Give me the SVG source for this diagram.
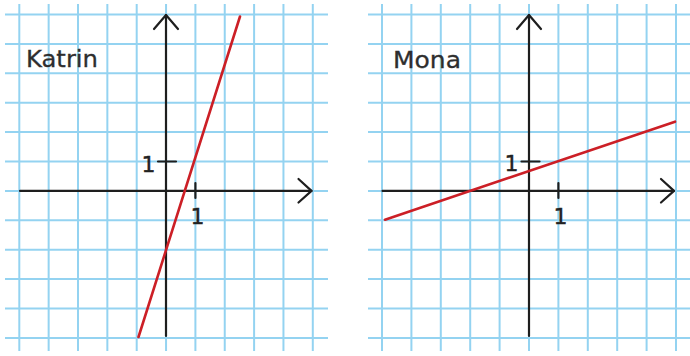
<svg xmlns="http://www.w3.org/2000/svg" width="690" height="356" viewBox="0 0 690 356">
<defs>
<style>
.grid line{stroke:#94d3f1;stroke-width:2}
.axis{stroke:#1e1e1e;stroke-width:2.2;fill:none;stroke-linecap:round;stroke-linejoin:round}
.graph{stroke:#cc1f26;stroke-width:2.6;stroke-linecap:round}
.name{font-family:"DejaVu Sans",sans-serif;font-size:23px;fill:#2e2e2e;stroke:#2e2e2e;stroke-width:0.3}
.num{font-family:"DejaVu Sans",sans-serif;font-size:22px;fill:#222;stroke:#222;stroke-width:0.4;text-anchor:middle}
</style>
</defs>
<rect width="690" height="356" fill="#fff"/>
<g id="katrin-panel">
<g class="grid">
<line x1="19.3" y1="4" x2="19.3" y2="351"/><line x1="48.65" y1="4" x2="48.65" y2="351"/><line x1="78" y1="4" x2="78" y2="351"/><line x1="107.35" y1="4" x2="107.35" y2="351"/><line x1="136.7" y1="4" x2="136.7" y2="351"/><line x1="166.05" y1="4" x2="166.05" y2="351"/><line x1="195.4" y1="4" x2="195.4" y2="351"/><line x1="224.75" y1="4" x2="224.75" y2="351"/><line x1="254.1" y1="4" x2="254.1" y2="351"/><line x1="283.45" y1="4" x2="283.45" y2="351"/><line x1="312.8" y1="4" x2="312.8" y2="351"/>
<line x1="5" y1="14.5" x2="328" y2="14.5"/><line x1="5" y1="43.9" x2="328" y2="43.9"/><line x1="5" y1="73.3" x2="328" y2="73.3"/><line x1="5" y1="102.7" x2="328" y2="102.7"/><line x1="5" y1="132.1" x2="328" y2="132.1"/><line x1="5" y1="161.5" x2="328" y2="161.5"/><line x1="5" y1="190.9" x2="328" y2="190.9"/><line x1="5" y1="220.3" x2="328" y2="220.3"/><line x1="5" y1="249.7" x2="328" y2="249.7"/><line x1="5" y1="279.1" x2="328" y2="279.1"/><line x1="5" y1="308.5" x2="328" y2="308.5"/><line x1="5" y1="337.9" x2="328" y2="337.9"/>
</g>
<g id="katrin-axes">
<line class="axis" x1="166" y1="336" x2="166" y2="15"/>
<polyline class="axis" points="154,29 166,15 178,29"/>
<line class="axis" x1="20" y1="190.9" x2="311.5" y2="190.9"/>
<polyline class="axis" points="298.5,179 311.5,190.9 298.5,202.5"/>
<line class="axis" x1="195.4" y1="183" x2="195.4" y2="198"/>
<line class="axis" x1="158" y1="161.5" x2="176" y2="161.5"/>
<text class="num" x="197.5" y="223.5">1</text>
<text class="num" x="148.5" y="171.5">1</text>
</g>
<line id="katrin-graph" class="graph" x1="240" y1="16.5" x2="138.5" y2="337"/>
<text id="katrin-label" class="name" x="26" y="67" textLength="72" lengthAdjust="spacingAndGlyphs">Katrin</text>
</g>
<g id="mona-panel">
<g class="grid">
<line x1="382" y1="4" x2="382" y2="351"/><line x1="411.4" y1="4" x2="411.4" y2="351"/><line x1="440.8" y1="4" x2="440.8" y2="351"/><line x1="470.2" y1="4" x2="470.2" y2="351"/><line x1="499.6" y1="4" x2="499.6" y2="351"/><line x1="529" y1="4" x2="529" y2="351"/><line x1="558.4" y1="4" x2="558.4" y2="351"/><line x1="587.8" y1="4" x2="587.8" y2="351"/><line x1="617.2" y1="4" x2="617.2" y2="351"/><line x1="646.6" y1="4" x2="646.6" y2="351"/><line x1="676" y1="4" x2="676" y2="351"/>
<line x1="368" y1="14.5" x2="690" y2="14.5"/><line x1="368" y1="43.9" x2="690" y2="43.9"/><line x1="368" y1="73.3" x2="690" y2="73.3"/><line x1="368" y1="102.7" x2="690" y2="102.7"/><line x1="368" y1="132.1" x2="690" y2="132.1"/><line x1="368" y1="161.5" x2="690" y2="161.5"/><line x1="368" y1="190.9" x2="690" y2="190.9"/><line x1="368" y1="220.3" x2="690" y2="220.3"/><line x1="368" y1="249.7" x2="690" y2="249.7"/><line x1="368" y1="279.1" x2="690" y2="279.1"/><line x1="368" y1="308.5" x2="690" y2="308.5"/><line x1="368" y1="337.9" x2="690" y2="337.9"/>
</g>
<g id="mona-axes">
<line class="axis" x1="529" y1="336" x2="529" y2="15"/>
<polyline class="axis" points="517,29 529,15 541,29"/>
<line class="axis" x1="382.5" y1="190.9" x2="674" y2="190.9"/>
<polyline class="axis" points="661,179 674,190.9 661,202.5"/>
<line class="axis" x1="558.4" y1="183" x2="558.4" y2="198"/>
<line class="axis" x1="521.5" y1="161.5" x2="539.5" y2="161.5"/>
<text class="num" x="560.5" y="223.5">1</text>
<text class="num" x="511.5" y="171">1</text>
</g>
<line id="mona-graph" class="graph" x1="385" y1="219.7" x2="675" y2="121.7"/>
<text id="mona-label" class="name" x="393" y="68" textLength="68" lengthAdjust="spacingAndGlyphs">Mona</text>
</g>
</svg>
